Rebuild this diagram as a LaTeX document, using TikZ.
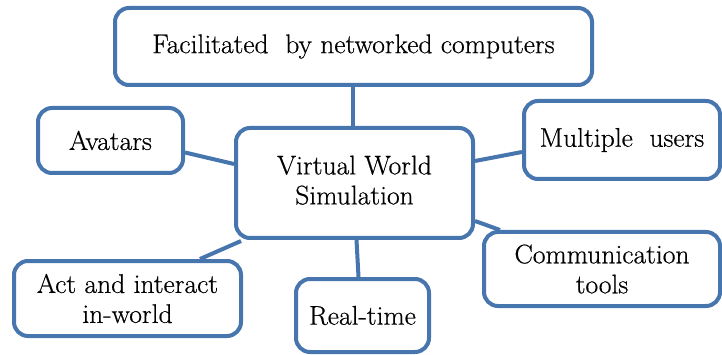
\documentclass[tikz,border=0pt]{standalone}
\usepackage{fontspec}
\setmainfont{Latin Modern Roman}
\newfontfamily\boxfont{Latin Modern Roman}[FakeBold=0.5, FakeStretch=1.02]
\usetikzlibrary{calc}
\definecolor{boxblue}{HTML}{4775AE}
\begin{document}
\begin{tikzpicture}[x=1pt,y=-1pt,
  box/.style={draw=boxblue, line width=4pt, rounded corners=14pt, fill=white,
    inner sep=0pt, align=center, font=\boxfont\fontsize{27}{30}\selectfont},
  link/.style={draw=boxblue, line width=4pt}]
\useasboundingbox (0,0) rectangle (722,355);
\node[box, minimum width=477pt, minimum height=77pt] (top) at (353.5,46.5) {Facilitated\ \ by networked computers};
\node[box, minimum width=145pt, minimum height=65pt] (avatars) at (110.5,140.5) {Avatars};
\node[box, minimum width=237pt, minimum height=110pt] (center) at (354.5,183) {Virtual World\\Simulation\vphantom{g}\rule[-6pt]{0pt}{0pt}};
\node[box, minimum width=196pt, minimum height=78pt] (multi) at (622,140) {Multiple\ \ users};
\node[box, minimum width=236pt, minimum height=74pt] (comm) at (602,269) {Communication\\tools};
\node[box, minimum width=227pt, minimum height=75pt] (act) at (127.5,298.5) {Act and interact\\in-world};
\node[box, minimum width=133pt, minimum height=73pt] (real) at (362.5,315.5) {Real-time};
\draw[link] ([xshift=-1pt]top.south) -- ([xshift=-2pt]center.north);
\draw[link] ([yshift=-12pt]avatars.east) -- ([yshift=19pt]center.west);
\draw[link] ([yshift=22pt]center.east) -- ([yshift=-12pt]multi.west);
\draw[link] ([yshift=-38pt]center.east) -- ([xshift=18pt]comm.north west);
\draw[link] ([xshift=7pt,yshift=-1pt]center.south west) -- ([xshift=188pt]act.north west);
\draw[link] ([xshift=2pt]center.south) -- ([xshift=-4pt]real.north);
\end{tikzpicture}
\end{document}
